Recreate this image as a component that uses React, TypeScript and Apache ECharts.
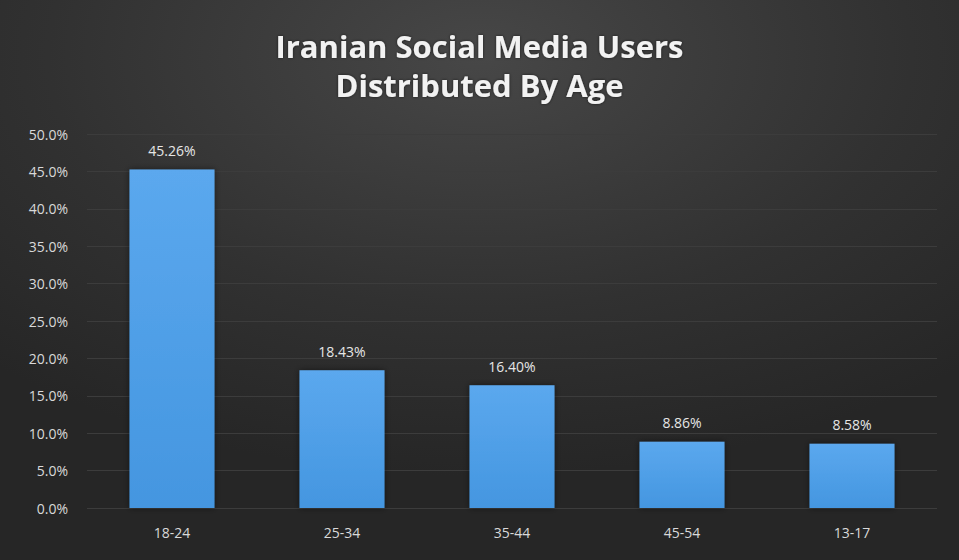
import React, { useEffect, useRef } from "react";
import * as echarts from "echarts";

const categories = ["18-24", "25-34", "35-44", "45-54", "13-17"];
const shares = [45.26, 18.43, 16.4, 8.86, 8.58];
const titleLines = ["Iranian Social Media Users", "Distributed By Age"];

export default function App() {
  const ref = useRef<HTMLDivElement>(null);
  useEffect(() => {
    document.body.style.margin = "0";
    const chart = echarts.init(ref.current!, null, { renderer: "svg" });
    chart.setOption({
      animation: false,
      backgroundColor: {
        type: "radial",
        x: 0.5,
        y: 0.1,
        r: 0.75,
        colorStops: [
          { offset: 0, color: "#474747" },
          { offset: 0.6, color: "#313131" },
          { offset: 1, color: "#262626" },
        ],
      },
      title: {
        text: titleLines.join("\n"),
        left: "center",
        top: 21,
        textStyle: {
          color: "#f2f2f2",
          fontFamily: "Open Sans",
          fontWeight: "bold",
          fontSize: 31,
          lineHeight: 39,
          textShadowColor: "rgba(0,0,0,0.6)",
          textShadowBlur: 3,
        },
      },
      grid: { left: 87, right: 22, top: 134, bottom: 52 },
      xAxis: {
        type: "category",
        data: categories,
        axisLine: { show: false },
        axisTick: { show: false },
        axisLabel: {
          color: "#d9d9d9",
          fontFamily: "Open Sans",
          fontSize: 14,
          margin: 17,
        },
      },
      yAxis: {
        type: "value",
        min: 0,
        max: 50,
        interval: 5,
        axisLine: { show: false },
        axisTick: { show: false },
        splitLine: { lineStyle: { color: "#3c3c3c", width: 1 } },
        axisLabel: {
          color: "#d9d9d9",
          fontFamily: "Open Sans",
          fontSize: 14,
          margin: 19,
          formatter: (v: number) => v.toFixed(1) + "%",
        },
      },
      series: [
        {
          type: "bar",
          data: shares,
          barWidth: "50%",
          itemStyle: {
            color: {
              type: "linear",
              x: 0,
              y: 0,
              x2: 0,
              y2: 1,
              colorStops: [
                { offset: 0, color: "#5ba8ee" },
                { offset: 1, color: "#4496e0" },
              ],
            },
            shadowColor: "rgba(0,0,0,0.5)",
            shadowBlur: 6,
          },
          label: {
            show: true,
            position: "top",
            distance: 12,
            color: "#e6e6e6",
            fontFamily: "Open Sans",
            fontSize: 14,
            formatter: (p: any) => p.value.toFixed(2) + "%",
          },
        },
      ],
    });
    return () => chart.dispose();
  }, []);
  return <div ref={ref} style={{ width: 959, height: 560 }} />;
}
